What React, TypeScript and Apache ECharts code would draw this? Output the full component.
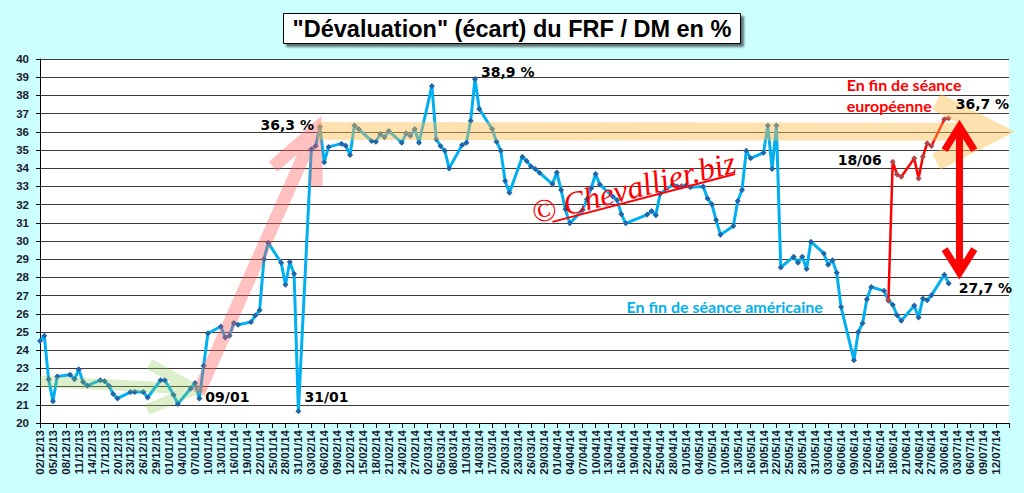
import React, { useEffect, useRef } from "react";
import * as echarts from "echarts";

const TITLE = '"Dévaluation" (écart) du FRF / DM en %';

// Axis settings (day 0 = 02/12/13)
const X_MIN = 0;
const X_MAX = 225;
const X_STEP = 3;
const X_LAST_LABEL = 222;
const Y_MIN = 20;
const Y_MAX = 40;
const Y_STEP = 1;

// "En fin de séance américaine"
const americanDates = [
  "02/12/13", "03/12/13", "04/12/13", "05/12/13", "06/12/13",
  "09/12/13", "10/12/13", "11/12/13", "12/12/13", "13/12/13",
  "16/12/13", "17/12/13", "18/12/13", "19/12/13", "20/12/13",
  "23/12/13", "24/12/13", "26/12/13", "27/12/13",
  "30/12/13", "31/12/13", "02/01/14", "03/01/14",
  "06/01/14", "07/01/14", "08/01/14", "09/01/14", "10/01/14",
  "13/01/14", "14/01/14", "15/01/14", "16/01/14", "17/01/14",
  "20/01/14", "21/01/14", "22/01/14", "23/01/14", "24/01/14",
  "27/01/14", "28/01/14", "29/01/14", "30/01/14", "31/01/14",
  "03/02/14", "04/02/14", "05/02/14", "06/02/14", "07/02/14",
  "10/02/14", "11/02/14", "12/02/14", "13/02/14", "14/02/14",
  "17/02/14", "18/02/14", "19/02/14", "20/02/14", "21/02/14",
  "24/02/14", "25/02/14", "26/02/14", "27/02/14", "28/02/14",
  "03/03/14", "04/03/14", "05/03/14", "06/03/14", "07/03/14",
  "10/03/14", "11/03/14", "12/03/14", "13/03/14", "14/03/14",
  "17/03/14", "18/03/14", "19/03/14", "20/03/14", "21/03/14",
  "24/03/14", "25/03/14", "26/03/14", "27/03/14", "28/03/14",
  "31/03/14", "01/04/14", "02/04/14", "03/04/14", "04/04/14",
  "07/04/14", "08/04/14", "09/04/14", "10/04/14", "11/04/14",
  "14/04/14", "15/04/14", "16/04/14", "17/04/14",
  "22/04/14", "23/04/14", "24/04/14", "25/04/14",
  "28/04/14", "29/04/14", "30/04/14", "01/05/14", "02/05/14",
  "05/05/14", "06/05/14", "07/05/14", "08/05/14", "09/05/14",
  "12/05/14", "13/05/14", "14/05/14", "15/05/14", "16/05/14",
  "19/05/14", "20/05/14", "21/05/14", "22/05/14", "23/05/14",
  "26/05/14", "27/05/14", "28/05/14", "29/05/14", "30/05/14",
  "02/06/14", "03/06/14", "04/06/14", "05/06/14", "06/06/14",
  "09/06/14", "10/06/14", "11/06/14", "12/06/14", "13/06/14",
  "16/06/14", "17/06/14", "18/06/14", "19/06/14", "20/06/14",
  "23/06/14", "24/06/14", "25/06/14", "26/06/14", "27/06/14",
  "30/06/14", "01/07/14",
];
const americanValues = [
  24.5, 24.8, 22.4, 21.2, 22.55,
  22.65, 22.4, 22.95, 22.25, 22.05,
  22.35, 22.3, 22.05, 21.6, 21.35,
  21.7, 21.7, 21.7, 21.4,
  22.35, 22.35, 21.55, 21.05,
  21.9, 22.2, 21.35, 23.15, 24.93,
  25.3, 24.7, 24.8, 25.5, 25.4,
  25.55, 25.9, 26.2, 29.0, 29.9,
  28.8, 27.6, 28.85, 28.2, 20.65,
  35.04, 35.22, 36.28, 34.33, 35.17,
  35.35, 35.24, 34.73, 36.34, 36.15,
  35.5, 35.46, 35.88, 35.7, 36.04,
  35.4, 35.92, 35.77, 36.15, 35.4,
  38.52, 35.59, 35.22, 34.96, 33.99,
  35.27, 35.4, 36.6, 38.9, 37.25,
  36.15, 35.46, 34.96, 33.3, 32.65,
  34.63, 34.4, 34.1, 33.95, 33.75,
  33.13, 33.77, 32.8, 31.74, 30.97,
  31.7, 32.3, 32.9, 33.68, 33.1,
  32.44, 32.25, 31.47, 30.97,
  31.45, 31.65, 31.42, 32.6,
  33.1, 33.0, 33.0, 33.05, 32.95,
  33.0, 32.34, 32.02, 31.15, 30.35,
  30.82, 32.2, 32.8, 34.96, 34.54,
  34.85, 36.34, 33.96, 36.34, 28.55,
  29.14, 28.8, 29.14, 28.46, 29.96,
  29.32, 28.7, 28.94, 28.25, 26.38,
  23.45, 25.0, 25.48, 26.8, 27.47,
  27.26, 26.73, 26.5, 25.92, 25.62,
  26.45, 25.8, 26.84, 26.74, 27.02,
  28.15, 27.66,
];

// "En fin de séance européenne"
const europeanDates = [
  "17/06/14", "18/06/14", "19/06/14", "20/06/14",
  "23/06/14", "24/06/14", "25/06/14", "26/06/14", "27/06/14",
  "30/06/14", "01/07/14",
];
const europeanValues = [
  26.73, 34.36, 33.66, 33.53,
  34.54, 33.44, 34.63, 35.37, 35.22,
  36.69, 36.74,
];

// Annotation texts and the data points they refer to
const noteTexts = ["36,3 %", "38,9 %", "09/01", "31/01", "18/06", "36,7 %", "27,7 %"];
const noteDates = ["05/02/14", "13/03/14", "08/01/14", "31/01/14", "18/06/14", "01/07/14", "01/07/14"];
const noteValues = [36.28, 38.9, 21.35, 20.65, 34.36, 36.74, 27.66];
const EURO_NOTE = "En fin de séance\neuropéenne";
const US_NOTE = "En fin de séance américaine";
const WATERMARK = "© Chevallier.biz";

const ORIGIN = Date.UTC(2013, 11, 2);
const DAY = 86400000;
function toDay(s: string): number {
  const [d, m, y] = s.split("/").map(Number);
  return Math.round((Date.UTC(2000 + y, m - 1, d) - ORIGIN) / DAY);
}
function fmtDay(i: number): string {
  const t = new Date(ORIGIN + i * DAY);
  const p = (n: number) => String(n).padStart(2, "0");
  return `${p(t.getUTCDate())}/${p(t.getUTCMonth() + 1)}/${p(t.getUTCFullYear() % 100)}`;
}

function arrowPath(tail: number[], tip: number[], len: number, angDeg: number, both: boolean): string {
  const dx = tip[0] - tail[0];
  const dy = tip[1] - tail[1];
  const L = Math.hypot(dx, dy);
  const ux = dx / L;
  const uy = dy / L;
  const a = (angDeg * Math.PI) / 180;
  const c = Math.cos(a);
  const s = Math.sin(a);
  const f = (n: number) => n.toFixed(2);
  const head = (p: number[], vx: number, vy: number) => {
    const bx = -vx;
    const by = -vy;
    const a1 = [p[0] + len * (bx * c - by * s), p[1] + len * (bx * s + by * c)];
    const a2 = [p[0] + len * (bx * c + by * s), p[1] + len * (-bx * s + by * c)];
    return `M ${f(a1[0])} ${f(a1[1])} L ${f(p[0])} ${f(p[1])} L ${f(a2[0])} ${f(a2[1])}`;
  };
  let d = `M ${f(tail[0])} ${f(tail[1])} L ${f(tip[0])} ${f(tip[1])} ` + head(tip, ux, uy);
  if (both) d += " " + head(tail, -ux, -uy);
  return d;
}

export default function App() {
  const ref = useRef<HTMLDivElement>(null);

  useEffect(() => {
    if (!ref.current) return;
    const chart = echarts.init(ref.current, undefined, { renderer: "svg" });
    const labelFont = "Liberation Sans";
    const option: any = {
      animation: false,
      backgroundColor: "#ccffff",
      title: {
        text: TITLE,
        left: "center",
        top: 13,
        backgroundColor: "#ffffff",
        borderColor: "#000000",
        borderWidth: 1,
        padding: [3, 9, 2, 9],
        shadowColor: "rgba(0,0,0,0.55)",
        shadowBlur: 2,
        shadowOffsetX: 3,
        shadowOffsetY: 3,
        textStyle: { fontFamily: labelFont, fontWeight: "bold", fontSize: 23.5, lineHeight: 26, color: "#000" },
      },
      grid: { left: 40, right: 15, top: 59, bottom: 70, show: true, backgroundColor: "#ffffff", borderWidth: 0 },
      xAxis: {
        type: "value",
        min: X_MIN,
        max: X_MAX,
        interval: X_STEP,
        axisLine: { show: true, lineStyle: { color: "#000", width: 1 } },
        axisTick: { show: true, length: 5, lineStyle: { color: "#000" } },
        splitLine: { show: false },
        axisLabel: {
          rotate: 90,
          margin: 7,
          fontSize: 11.5,
          fontWeight: "bold",
          fontFamily: labelFont,
          color: "#1a1a2e",
          showMinLabel: true,
          showMaxLabel: true,
          formatter: (v: number) => (v > X_LAST_LABEL ? "" : fmtDay(v)),
        },
      },
      yAxis: {
        type: "value",
        min: Y_MIN,
        max: Y_MAX,
        interval: Y_STEP,
        axisLine: { show: true, lineStyle: { color: "#000", width: 1 } },
        axisTick: { show: true, length: 4, lineStyle: { color: "#000" } },
        splitLine: { show: true, lineStyle: { color: "#3a3a3a", width: 1 } },
        axisLabel: { margin: 11, fontSize: 11.5, fontWeight: "bold", fontFamily: labelFont, color: "#1a1a2e" },
      },
      series: [
        {
          type: "line",
          name: "américaine",
          data: americanDates.map((d, i) => [toDay(d), americanValues[i]]),
          lineStyle: { color: "#00b0f0", width: 3 },
          symbol: "diamond",
          symbolSize: 6,
          itemStyle: { color: "#2164a8" },
          z: 3,
        },
        {
          type: "line",
          name: "européenne",
          data: europeanDates.map((d, i) => [toDay(d), europeanValues[i]]),
          lineStyle: { color: "#ff0000", width: 2.5 },
          symbol: "diamond",
          symbolSize: 6,
          itemStyle: { color: "#b44848" },
          z: 4,
        },
      ],
    };
    chart.setOption(option);

    const P = (d: number | string, v: number) =>
      chart.convertToPixel({ gridIndex: 0 }, [typeof d === "string" ? toDay(d) : d, v]) as number[];

    // Decorative arrows, anchored in data space
    const arrows = [
      { name: "arrowGreen", tail: P(0, 22.3), tip: P(36, 21.85), len: 52, ang: 26, w: 11, color: "rgba(140,200,80,0.3)", both: false },
      { name: "arrowPink", tail: P(36.8, 21.65), tip: P(63.9, 36.1), len: 56, ang: 25, w: 13, color: "rgba(255,90,90,0.38)", both: false },
      { name: "arrowYellow", tail: P(64.4, 36.05), tip: P(221.8, 36.0), len: 66, ang: 27, w: 18, color: "rgba(250,190,80,0.45)", both: false },
      { name: "arrowRed", tail: P(213.5, 28.25), tip: P(213.5, 36.3), len: 28, ang: 32, w: 7, color: "#ff0000", both: true },
    ];
    const elements: any[] = [];
    arrows.forEach((a, i) => {
      const d = arrowPath(a.tail, a.tip, a.len, a.ang, a.both);
      echarts.graphic.registerShape(a.name, echarts.graphic.extendPath(d, {}));
      elements.push({
        type: a.name,
        x: 0,
        y: 0,
        z: 100 + i,
        silent: true,
        style: { fill: "none", stroke: a.color, lineWidth: a.w, lineJoin: "miter", lineCap: "butt", miterLimit: 10 },
      });
    });

    // Watermark
    const wmA = P(119, 31.05);
    const wmB = P(161.4, 33.68);
    const wmC = P(137.8, 32.95);
    elements.push({
      type: "line",
      z: 120,
      silent: true,
      shape: { x1: wmA[0], y1: wmA[1], x2: wmB[0], y2: wmB[1] },
      style: { stroke: "#ff0000", lineWidth: 2 },
    });
    elements.push({
      type: "text",
      z: 121,
      silent: true,
      x: wmC[0],
      y: wmC[1],
      rotation: 0.25,
      style: {
        text: WATERMARK,
        font: 'italic 32px "Liberation Serif"',
        fill: "#ff0000",
        align: "center",
        verticalAlign: "middle",
      },
    });

    // Value / date notes
    const noteOffsets = [
      [-6, -2, "right"],
      [6, -7, "left"],
      [6, -1, "left"],
      [6, -14, "left"],
      [-11, -2, "right"],
      [7, -14, "left"],
      [10, 4, "left"],
    ];
    noteTexts.forEach((t, i) => {
      const p = P(noteDates[i], noteValues[i]);
      const o = noteOffsets[i];
      elements.push({
        type: "text",
        z: 130,
        silent: true,
        x: p[0] + (o[0] as number),
        y: p[1] + (o[1] as number),
        style: {
          text: t,
          font: 'bold 14px "DejaVu Sans"',
          fill: "#000",
          align: o[2],
          verticalAlign: "middle",
        },
      });
    });

    const eu = P(187.3, 39.2);
    elements.push({
      type: "text",
      z: 130,
      silent: true,
      x: eu[0],
      y: eu[1],
      style: {
        text: EURO_NOTE,
        font: 'bold 16px "Lato"',
        lineHeight: 21,
        fill: "#ff0000",
        align: "left",
        verticalAlign: "top",
      },
    });
    const us = P(136.2, 26.4);
    elements.push({
      type: "text",
      z: 130,
      silent: true,
      x: us[0],
      y: us[1],
      style: {
        text: US_NOTE,
        font: 'bold 16px "Lato"',
        fill: "#00b0f0",
        align: "left",
        verticalAlign: "middle",
      },
    });

    chart.setOption({ graphic: { elements } });

    return () => chart.dispose();
  }, []);

  return (
    <div
      ref={ref}
      style={{ position: "fixed", left: 0, top: 0, width: 1024, height: 493 }}
    />
  );
}
